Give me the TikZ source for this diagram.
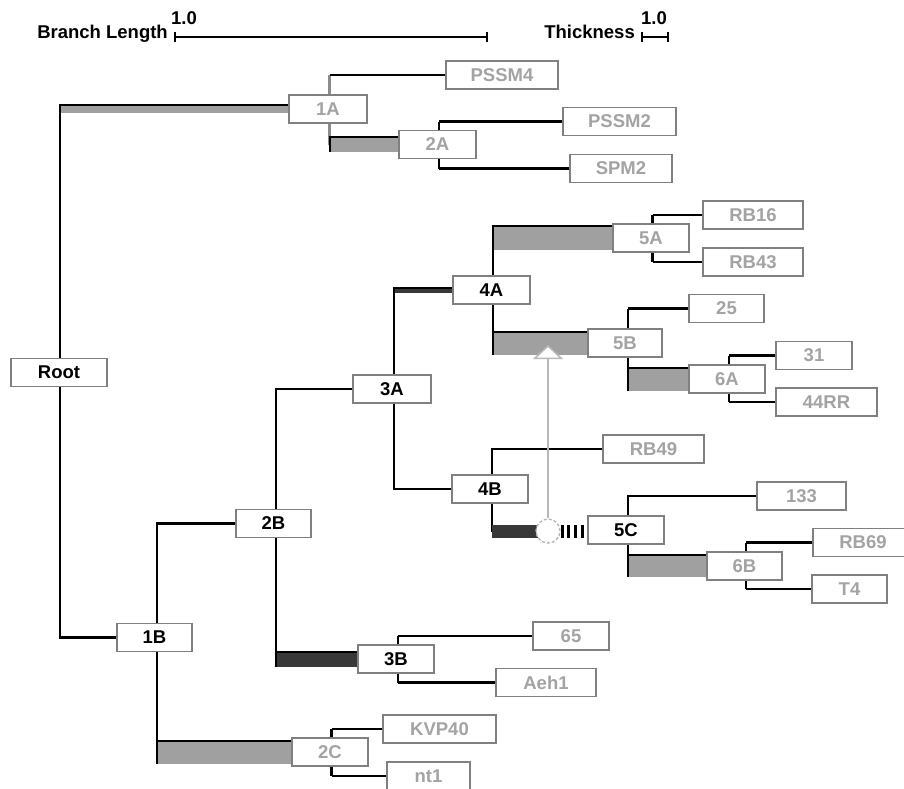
\documentclass[tikz,border=0pt]{standalone}
\usepackage{fontspec}
\setmainfont{Liberation Sans}
\usetikzlibrary{calc,arrows.meta}
\pgfdeclarelayer{bg}
\pgfsetlayers{bg,main}
\definecolor{txtgray}{HTML}{A3A3A3}
\definecolor{boxgray}{HTML}{808080}
\definecolor{barfill}{HTML}{A0A0A0}
\definecolor{darkfill}{HTML}{383838}
\definecolor{linkgray}{HTML}{B8B8B8}
\definecolor{vgray}{HTML}{8C8C8C}
\newcommand\lab{\fontsize{18.5}{20}\selectfont\bfseries}
\tikzset{
  box/.style={draw=boxgray, line width=1.4, fill=white, minimum height=28, inner sep=0pt, font=\lab},
  inode/.style={box, text=black},
  gnode/.style={box, text=txtgray},
  branch/.style={line width=2.8, black, line cap=rect, line join=miter},
  leafv/.style={line width=2.4, black},
  leafh/.style={line width=2.6, black},
  topedge/.style={line width=2, black, line join=miter},
  scaleline/.style={line width=1.3, black},
  title/.style={font=\lab, inner sep=0pt, text=black},
  hubstyle/.style={circle, minimum size=24, inner sep=0pt, fill=white, draw=linkgray, line width=1.4, dash pattern=on 3 off 2},
  stripes/.style={line width=13, black, dash pattern=on 3 off 3.7},
  link/.style={line width=1.5, draw=linkgray}
}
% bar from vertical line #1 to child #2, thickness #3, fill #4
\newcommand\tbar[4]{%
  \fill[#4] ($(#1 |- #2.west)+(0,-#3/2)$) rectangle ($(#2.west)+(0,#3/2)$);
  \draw[topedge] ($(#1 |- #2.west)+(0,#3/2)$) -- ($(#1 |- #2.west)+(0,-#3/2)$) -- ($(#2.west)+(0,-#3/2)$);}
% leaf connection: vertical #1 from parent anchor #2 to child #3
\newcommand\leafto[4][black]{%
  \draw[leafv, draw=#1] (#2 |- #3) -- (#2 |- #4.west);
  \draw[leafh] (#2 |- #4.west) -- (#4.west);}
\begin{document}
\begin{tikzpicture}[x=1pt,y=-1pt]
\useasboundingbox (0,0) rectangle (904,788);
\clip (0,0) rectangle (904,788);

% scale bars
\node[title, anchor=base east] (bl) at (168,38) {Branch Length};
\node[title, anchor=base west] (bl1) at (171,24) {1.0};
\draw[scaleline] (175,37) -- (487,37);
\draw[scaleline] (175,32) -- (175,42);
\draw[scaleline] (487,32) -- (487,42);
\node[title, anchor=base east] (th) at (635,38) {Thickness};
\node[title, anchor=base west] (th1) at (641,24) {1.0};
\draw[scaleline] (642,37) -- (668,37);
\draw[scaleline] (642,32) -- (642,42);
\draw[scaleline] (668,32) -- (668,42);

% nodes
\node[inode, minimum width=96] (nRoot) at (59,372.5) {Root};
\node[gnode, minimum width=78] (n1A) at (328,109) {1A};
\node[gnode, minimum width=112] (nPSSM4) at (502,75) {PSSM4};
\node[gnode, minimum width=77] (n2A) at (437.5,144.5) {2A};
\node[gnode, minimum width=113] (nPSSM2) at (619.5,121.5) {PSSM2};
\node[gnode, minimum width=102] (nSPM2) at (621,168.5) {SPM2};
\node[inode, minimum width=75] (n1B) at (154.5,637.5) {1B};
\node[inode, minimum width=75] (n2B) at (273.5,523.5) {2B};
\node[gnode, minimum width=76] (n2C) at (330,752) {2C};
\node[gnode, minimum width=113] (nKVP40) at (439.5,729) {KVP40};
\node[gnode, minimum width=83] (nnt1) at (428.5,776) {nt1};
\node[inode, minimum width=78] (n3A) at (392,389) {3A};
\node[inode, minimum width=76] (n3B) at (396,659) {3B};
\node[gnode, minimum width=76] (n65) at (571,636) {65};
\node[gnode, minimum width=100] (nAeh1) at (546,682.5) {Aeh1};
\node[inode, minimum width=77] (n4A) at (491.5,290) {4A};
\node[inode, minimum width=76] (n4B) at (490,489) {4B};
\node[gnode, minimum width=76] (n5A) at (651,238) {5A};
\node[gnode, minimum width=100] (nRB16) at (753,215) {RB16};
\node[gnode, minimum width=100] (nRB43) at (753,262) {RB43};
\node[gnode, minimum width=74] (n5B) at (625,343) {5B};
\node[gnode, minimum width=75] (n25) at (726.5,308.5) {25};
\node[gnode, minimum width=76] (n6A) at (727,379) {6A};
\node[gnode, minimum width=76] (n31) at (814,355.5) {31};
\node[gnode, minimum width=101] (n44RR) at (826.5,402) {44RR};
\node[gnode, minimum width=101] (nRB49) at (653.5,449) {RB49};
\node[inode, minimum width=76] (n5C) at (626,530) {5C};
\node[gnode, minimum width=89] (n133) at (801.5,496) {133};
\node[gnode, minimum width=75] (n6B) at (744.5,566) {6B};
\node[gnode, minimum width=100] (nRB69) at (863,542.5) {RB69};
\node[gnode, minimum width=75] (nT4) at (849.5,589) {T4};

% vertical line positions
\coordinate (vRoot) at (60,0);
\coordinate (v1B) at (157,0);
\coordinate (v2B) at (276,0);
\coordinate (v3A) at (394,0);
\coordinate (v4A) at (493,0);
\coordinate (v4B) at (492,0);
\coordinate (v1A) at (329.5,0);
\coordinate (v2A) at (439,0);
\coordinate (v3B) at (398,0);
\coordinate (v2C) at (331.5,0);
\coordinate (v5A) at (652.5,0);
\coordinate (v5B) at (628,0);
\coordinate (v6A) at (729,0);
\coordinate (v5C) at (628,0);
\coordinate (v6B) at (746,0);

\begin{pgfonlayer}{bg}
  % Root
  \draw[branch] (vRoot |- nRoot.north) -- (vRoot |- n1A.west);
  \tbar{vRoot}{n1A}{8}{barfill}
  \draw[branch] (vRoot |- nRoot.south) |- (n1B.west);
  % 1B
  \draw[branch] (v1B |- n1B.north) |- (n2B.west);
  \draw[branch] (v1B |- n1B.south) -- (v1B |- n2C.west);
  \tbar{v1B}{n2C}{23}{barfill}
  % 2B
  \draw[branch] (v2B |- n2B.north) |- (n3A.west);
  \draw[branch] (v2B |- n2B.south) -- (v2B |- n3B.west);
  \tbar{v2B}{n3B}{15}{darkfill}
  % 3A
  \draw[branch] (v3A |- n3A.north) -- (v3A |- n4A.west);
  \tbar{v3A}{n4A}{5}{darkfill}
  \draw[branch] (v3A |- n3A.south) |- (n4B.west);
  % 4A
  \draw[branch] (v4A |- n4A.north) -- (v4A |- n5A.west);
  \tbar{v4A}{n5A}{24}{barfill}
  \draw[branch] (v4A |- n4A.south) -- (v4A |- n5B.west);
  \tbar{v4A}{n5B}{23}{barfill}
  % 4B
  \draw[branch] (v4B |- n4B.north) |- (nRB49.west);
  \draw[branch] (v4B |- n4B.south) -- (v4B |- 0,531);
  \fill[darkfill] (v4B |- 0,524.5) rectangle (548,537.5);
  % 5C
  \draw[branch] (v5C |- n5C.north) |- (n133.west);
  \draw[branch] (v5C |- n5C.south) -- (v5C |- n6B.west);
  \tbar{v5C}{n6B}{22}{barfill}
  % 1A
  \leafto[vgray]{v1A}{n1A.north}{nPSSM4}
  \draw[leafv, draw=vgray] (v1A |- n1A.south) -- (v1A |- n2A.west);
  \tbar{v1A}{n2A}{15}{barfill}
  % 2A
  \leafto{v2A}{n2A.north}{nPSSM2}
  \leafto{v2A}{n2A.south}{nSPM2}
  % 3B
  \leafto{v3B}{n3B.north}{n65}
  \leafto{v3B}{n3B.south}{nAeh1}
  % 2C
  \leafto{v2C}{n2C.north}{nKVP40}
  \leafto{v2C}{n2C.south}{nnt1}
  % 5A
  \leafto{v5A}{n5A.north}{nRB16}
  \leafto{v5A}{n5A.south}{nRB43}
  % 5B
  \leafto{v5B}{n5B.north}{n25}
  \draw[leafv] (v5B |- n5B.south) -- (v5B |- n6A.west);
  \tbar{v5B}{n6A}{23}{barfill}
  % 6A
  \leafto{v6A}{n6A.north}{n31}
  \leafto{v6A}{n6A.south}{n44RR}
  % 6B
  \leafto{v6B}{n6B.north}{nRB69}
  \leafto{v6B}{n6B.south}{nT4}
\end{pgfonlayer}

% hub, stripes and arrow
\node[hubstyle] (hub) at (548,531) {};
\draw[stripes] (hub.east) -- (hub.east -| n5C.west);
\coordinate (tgt) at (548,345);
\draw[link, -{Triangle[length=14, width=30, fill=white]}] (hub.north) -- (tgt);
\end{tikzpicture}
\end{document}
